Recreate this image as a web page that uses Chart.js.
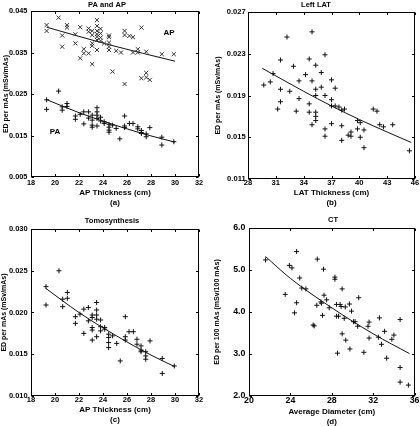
<!DOCTYPE html>
<html><head><meta charset="utf-8">
<script src="https://cdn.jsdelivr.net/npm/chart.js@4.4.1/dist/chart.umd.min.js"></script>
<style>
html,body{margin:0;padding:0;background:#fff;width:420px;height:426px;overflow:hidden}
.p{position:absolute;width:210px;height:213px}
canvas{display:block}
</style></head><body>
<div class="p" style="left:0;top:0"><canvas id="ca" width="210" height="213"></canvas></div>
<div class="p" style="left:210px;top:0"><canvas id="cb" width="210" height="213"></canvas></div>
<div class="p" style="left:0;top:213px"><canvas id="cc" width="210" height="213"></canvas></div>
<div class="p" style="left:210px;top:213px"><canvas id="cd" width="210" height="213"></canvas></div>
<script>
// ---------- Panel (a): PA and AP ----------
const apX = [19.3,19.3,20.3,20.6,20.6,21.0,21.0,21.7,21.7,22.1,22.1,22.4,22.4,22.8,22.8,22.8,23.1,23.1,23.1,23.1,23.1,23.5,23.5,23.5,23.5,23.5,23.5,23.5,23.8,23.8,23.8,23.8,24.1,24.5,24.5,24.5,24.5,24.5,24.8,25.1,25.5,25.8,25.8,25.8,26.2,26.5,26.5,26.9,26.9,27.2,27.2,27.6,27.6,27.6,27.9,28.9,29.9];
const apY = [0.0416,0.0402,0.0434,0.0391,0.0364,0.0416,0.0410,0.0394,0.0372,0.0411,0.0336,0.0358,0.0348,0.0408,0.0400,0.0348,0.0402,0.0392,0.0372,0.0366,0.0322,0.0428,0.0414,0.0402,0.0394,0.0388,0.0380,0.0356,0.0407,0.0396,0.0386,0.0378,0.0372,0.0391,0.0387,0.0374,0.0364,0.0356,0.0304,0.0354,0.0350,0.0402,0.0392,0.0274,0.0390,0.0387,0.0350,0.0358,0.0350,0.0410,0.0288,0.0352,0.0301,0.0290,0.0284,0.0346,0.0346];
const apFitX = [19.3, 24.6, 30.0];
const apFitY = [0.0411, 0.0368, 0.0329];
const paX = [19.3,19.3,20.3,20.6,20.6,21.0,21.0,21.7,21.7,22.1,22.4,22.4,22.8,22.8,23.1,23.1,23.1,23.1,23.5,23.5,23.5,23.5,23.5,23.8,23.8,24.1,24.1,24.5,24.5,24.5,24.5,24.8,25.1,25.4,25.8,25.8,25.8,26.2,26.5,26.9,26.9,27.2,27.2,27.2,27.6,27.6,27.9,28.9,28.9,29.9];
const paY = [0.0236,0.0213,0.0257,0.0219,0.0211,0.0227,0.0220,0.0197,0.0189,0.0201,0.0207,0.0178,0.0207,0.0192,0.0199,0.0187,0.0175,0.0170,0.0217,0.0207,0.0199,0.0191,0.0173,0.0194,0.0185,0.0183,0.0179,0.0177,0.0170,0.0163,0.0158,0.0175,0.0167,0.0142,0.0197,0.0173,0.0169,0.0179,0.0179,0.0171,0.0166,0.0162,0.0157,0.0155,0.0154,0.0147,0.0169,0.0146,0.0127,0.0135];
const paFitX = [19.25, 22, 25, 28, 30.0];
const paFitY = [0.0237, 0.0205, 0.0175, 0.0149, 0.0134];
const aXTicks = [18,20,22,24,26,28,30,32];
const aYTicks = [0.005,0.015,0.025,0.035,0.045];

// ---------- Panel (b): Left LAT ----------
const latX = [29.7,30.4,30.7,31.2,31.5,31.5,31.5,32.2,32.5,32.9,33.2,33.5,33.5,34.2,34.6,34.6,34.6,34.9,34.9,34.9,35.3,35.3,35.3,35.3,35.3,35.3,35.9,35.9,36.3,36.3,36.3,36.3,37.0,37.0,37.0,37.0,37.4,37.4,37.8,38.1,38.1,38.1,38.4,38.8,39.1,39.1,39.8,39.8,40.1,40.1,40.5,40.5,41.5,41.9,42.2,42.6,43.6,45.4];
const latY = [0.0200,0.0203,0.0211,0.0177,0.0224,0.0196,0.0184,0.0246,0.0194,0.0218,0.0175,0.0204,0.0187,0.0210,0.0225,0.0182,0.0174,0.0251,0.0204,0.0162,0.0219,0.0196,0.0190,0.0174,0.0170,0.0166,0.0198,0.0212,0.0229,0.0190,0.0158,0.0151,0.0205,0.0186,0.0180,0.0163,0.0197,0.0180,0.0179,0.0176,0.0161,0.0147,0.0177,0.0152,0.0155,0.0151,0.0166,0.0158,0.0164,0.0150,0.0140,0.0157,0.0177,0.0175,0.0162,0.0160,0.0162,0.0137];
const latFitX = [29.55, 34, 37, 40, 43, 45.6];
const latFitY = [0.0216, 0.0194, 0.0180, 0.0167, 0.0155, 0.0145];
const bXTicks = [28,31,34,37,40,43,46];
const bYTicks = [0.011,0.015,0.019,0.023,0.027];

// ---------- Panel (c): Tomosynthesis ----------
const tomoX = [19.25,19.25,20.33,20.64,20.64,21.03,21.03,21.7,21.7,22.08,22.4,22.4,22.78,22.78,23.1,23.1,23.1,23.1,23.1,23.47,23.47,23.47,23.47,23.47,23.8,23.8,23.8,24.14,24.14,24.47,24.47,24.47,24.47,24.8,25.14,25.44,25.86,25.86,25.86,26.17,26.53,26.83,26.83,27.17,27.17,27.17,27.56,27.56,27.56,27.92,28.94,28.94,29.94];
const tomoY = [0.0231,0.0209,0.0250,0.0216,0.0207,0.0224,0.0217,0.0195,0.0187,0.0198,0.0204,0.0175,0.0206,0.0190,0.0197,0.0194,0.0182,0.0179,0.0167,0.0212,0.0203,0.0197,0.0192,0.0171,0.0191,0.0183,0.0178,0.0182,0.0180,0.0174,0.0170,0.0164,0.0158,0.0172,0.0163,0.0142,0.0195,0.0171,0.0167,0.0177,0.0177,0.0168,0.0162,0.0160,0.0155,0.0153,0.0153,0.0148,0.0144,0.0166,0.0145,0.0127,0.0136];
const tomoFitX = [19.22, 22, 25, 28, 30.0];
const tomoFitY = [0.0229, 0.0200, 0.0173, 0.0149, 0.0135];
const cXTicks = [18,20,22,24,26,28,30,32];
const cYTicks = [0.010,0.015,0.020,0.025,0.030];

// ---------- Panel (d): CT ----------
const ctX = [21.6,23.5,23.9,24.15,24.4,24.6,24.6,24.9,25.1,25.5,26.2,26.3,26.6,26.55,26.95,27.0,27.1,27.2,27.25,27.5,27.75,28.3,28.3,28.45,28.45,28.65,28.55,28.8,28.9,29.0,29.0,29.2,29.3,29.35,29.7,29.75,29.9,30.1,30.25,30.5,30.6,31.1,31.5,31.6,31.6,32.5,32.6,32.8,33.1,33.3,33.8,34.0,34.6,34.6,34.6,35.4];
const ctY = [5.24,4.42,5.11,5.05,3.98,5.44,4.22,4.81,4.57,4.55,3.69,3.67,5.26,4.16,4.24,4.21,3.92,5.02,4.40,4.29,4.10,4.83,4.78,4.18,3.90,3.90,3.02,4.18,4.13,4.55,3.48,3.85,4.12,3.33,4.19,3.12,4.02,3.77,3.77,3.66,4.34,3.04,3.66,3.76,3.38,3.40,3.86,3.23,3.54,2.90,3.35,3.45,3.82,2.68,2.33,2.26];
const ctFitX = [21.6, 24, 28, 32, 35.5];
const ctFitY = [5.32, 4.80, 4.10, 3.48, 3.01];
const dXTicks = [20,24,28,32,36];
const dYTicks = [2.0,3.0,4.0,5.0,6.0];

// ---------- drawing ----------
const FONT = '"Liberation Sans", Arial, Helvetica, sans-serif';
function pts(xs, ys){ return xs.map((x,i)=>({x:x, y:ys[i]})); }

const framePlugin = {
  id:'frame',
  afterDraw(chart, args, o){
    const ctx = chart.ctx, a = chart.chartArea, xs = chart.scales.x, ys = chart.scales.y;
    ctx.save();
    ctx.strokeStyle = '#000'; ctx.lineWidth = 1;
    const L = Math.round(a.left)+0.5, R = Math.round(a.right)-0.5, T = Math.round(a.top)+0.5, B = Math.round(a.bottom)-0.5;
    ctx.strokeRect(L, T, R-L, B-T);
    ctx.beginPath();
    xs.ticks.forEach(t=>{ const px = Math.round(xs.getPixelForValue(t.value))+0.5; ctx.moveTo(px,B); ctx.lineTo(px,B-2.5); ctx.moveTo(px,T); ctx.lineTo(px,T+2.5); });
    ys.ticks.forEach(t=>{ const py = Math.round(ys.getPixelForValue(t.value))+0.5; ctx.moveTo(L,py); ctx.lineTo(L+2.5,py); ctx.moveTo(R,py); ctx.lineTo(R-2.5,py); });
    ctx.stroke();
    ctx.fillStyle = '#000'; ctx.textAlign = 'center'; ctx.textBaseline = 'middle';
    if (o.title){ ctx.font = 'bold 7.5px ' + FONT; ctx.fillText(o.title, o.titleX, o.titleY); }
    (o.labels||[]).forEach(l=>{ ctx.font = 'bold 8px ' + FONT; ctx.fillText(l.text, xs.getPixelForValue(l.x), ys.getPixelForValue(l.y)); });
    ctx.restore();
  }
};

function makeChart(id, P){
  const yfmt = v => Number(v).toFixed(P.dec);
  return new Chart(document.getElementById(id), {
    type:'scatter',
    data:{datasets:P.datasets},
    plugins:[framePlugin],
    options:{
      responsive:false, animation:false, devicePixelRatio:1,
      layout:{padding:{top:P.top, right:210-P.right, left:0, bottom:0}},
      plugins:{legend:{display:false}, tooltip:{enabled:false}, title:{display:false},
        frame:{title:P.title, titleX:P.titleX, titleY:P.titleY, labels:P.labels||[]}},
      scales:{
        x:{type:'linear', position:'bottom', min:P.xt[0], max:P.xt[P.xt.length-1],
          grid:{display:false, drawTicks:false}, border:{display:false},
          afterBuildTicks:s=>{ s.ticks = P.xt.map(v=>({value:v})); },
          afterFit:s=>{ s.height = 213 - P.bottom; },
          ticks:{color:'#000', font:{family:FONT, size:P.tfs, weight:'bold', lineHeight:1}, padding:P.xtp, maxRotation:0, autoSkip:false, callback:v=>String(v)},
          title:{display:true, text:P.xTitle, color:'#000', font:{family:FONT, size:8, weight:'bold', lineHeight:1.25}, padding:{top:0, bottom:P.xpb}}
        },
        y:{type:'linear', position:'left', min:P.yt[0], max:P.yt[P.yt.length-1],
          grid:{display:false, drawTicks:false}, border:{display:false},
          afterBuildTicks:s=>{ s.ticks = P.yt.map(v=>({value:v})); },
          afterFit:s=>{ s.width = P.left; },
          ticks:{color:'#000', font:{family:FONT, size:P.tfs, weight:'bold', lineHeight:1.2}, padding:P.ytp, autoSkip:false, callback:yfmt},
          title:{display:true, text:P.yTitle, color:'#000', font:{family:FONT, size:7, weight:'bold', lineHeight:1.2}, padding:{top:P.ypt, bottom:0}}
        }
      }
    }
  });
}

function plusSet(xs, ys){ return {data:pts(xs,ys), pointStyle:'cross', pointRadius:2.5, borderColor:'#111', borderWidth:1, showLine:false}; }
function xSet(xs, ys){ return {data:pts(xs,ys), pointStyle:'crossRot', pointRadius:2.9, borderColor:'#333', borderWidth:1, showLine:false}; }
function fitSet(xs, ys){ return {data:pts(xs,ys), showLine:true, pointRadius:0, borderColor:'#111', borderWidth:1, cubicInterpolationMode:'monotone', fill:false}; }

makeChart('ca', {
  left:31, right:199, top:11, bottom:177, xt:aXTicks, yt:aYTicks, dec:3, tfs:7.3,
  xtp:2.2, ytp:3.7, xpb:5, ypt:1.8,
  xTitle:['AP Thickness (cm)','(a)'], yTitle:'ED per mAs (mSv/mAs)',
  title:'PA and AP', titleX:107, titleY:4.5,
  labels:[{text:'AP', x:29.5, y:0.0398},{text:'PA', x:20.0, y:0.0158}],
  datasets:[xSet(apX,apY), fitSet(apFitX,apFitY), plusSet(paX,paY), fitSet(paFitX,paFitY)]
});
makeChart('cb', {
  left:38, right:205, top:12, bottom:179, xt:bXTicks, yt:bYTicks, dec:3, tfs:7.6,
  xtp:0.2, ytp:2.3, xpb:5.3, ypt:4.1,
  xTitle:['LAT Thickness (cm)','(b)'], yTitle:'ED per mAs (mSv/mAs)',
  title:'Left LAT', titleX:106, titleY:4.5,
  datasets:[plusSet(latX,latY), fitSet(latFitX,latFitY)]
});
makeChart('cc', {
  left:31, right:199, top:16, bottom:183, xt:cXTicks, yt:cYTicks, dec:3, tfs:7.5,
  xtp:0.5, ytp:3.3, xpb:1.3, ypt:-0.2,
  xTitle:['AP Thickness (cm)','(c)'], yTitle:'ED per mAs (mSv/mAs)',
  title:'Tomosynthesis', titleX:112, titleY:7.5,
  datasets:[plusSet(tomoX,tomoY), fitSet(tomoFitX,tomoFitY)]
});
makeChart('cd', {
  left:39, right:205, top:15, bottom:183, xt:dXTicks, yt:dYTicks, dec:1, tfs:8.8,
  xtp:0.5, ytp:3.6, xpb:-1, ypt:3.1,
  xTitle:['Average Diameter (cm)','(d)'], yTitle:'ED per 100 mAs (mSv/100 mAs)',
  title:'CT', titleX:123, titleY:7,
  datasets:[plusSet(ctX,ctY), fitSet(ctFitX,ctFitY)]
});
</script>
</body></html>
